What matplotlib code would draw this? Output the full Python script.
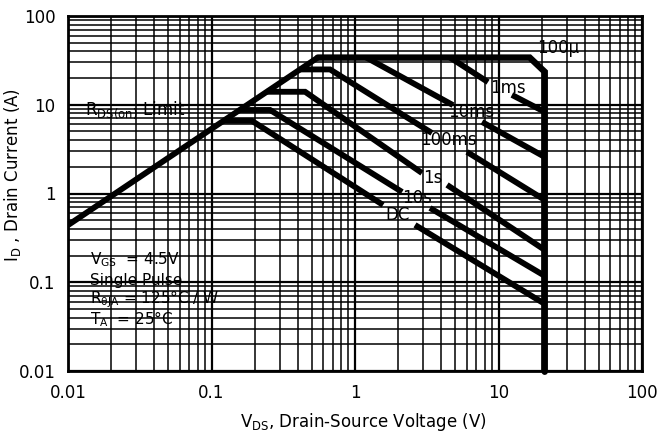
import numpy as np
import matplotlib
matplotlib.use("Agg")
import matplotlib.pyplot as plt
from matplotlib.ticker import LogLocator, FixedLocator, FixedFormatter, NullFormatter

nan = np.nan

# ---- data ----
x_ticks = [0.01, 0.1, 1, 10, 100]
x_tick_labels = ["0.01", "0.1", "1", "10", "100"]
y_ticks = [0.01, 0.1, 1, 10, 100]
y_tick_labels = ["0.01", "0.1", "1", "10", "100"]

rds_v = [0.01, 0.55]
rds_i = [0.44, 34]

c100us_v = [0.55, 16.5, 21, 21]
c100us_i = [34, 34, 23.5, 0.0098]

c1ms_v = [4.6, 8.45, nan, 12.4, 21]
c1ms_i = [34, 18.0, nan, 12.9, 8.3]

c10ms_v = [1.2, 4.82, nan, 7.67, 21]
c10ms_i = [34, 9.9, nan, 6.4, 2.58]

c100ms_v = [0.41, 0.67, 3.44, nan, 6.03, 21]
c100ms_i = [25, 25, 4.8, nan, 2.94, 0.845]

c1s_v = [0.242, 0.449, 2.93, nan, 4.38, 21]
c1s_i = [14, 14, 1.70, nan, 1.25, 0.231]

c10s_v = [0.156, 0.256, 2.13, nan, 3.33, 21]
c10s_i = [8.73, 8.73, 1.04, nan, 0.687, 0.118]

cdc_v = [0.121, 0.191, 1.57, nan, 2.62, 21]
cdc_i = [6.6, 6.6, 0.742, nan, 0.442, 0.057]

curve_labels = ["100µ", "1ms", "10ms", "100ms", "1s", "10s", "DC"]
curve_label_v = [18.5, 8.73, 4.45, 2.84, 2.98, 2.13, 1.62]
curve_label_i = [43.6, 15.4, 8.28, 4.0, 1.50, 0.89, 0.573]

notes = [r"V$_{\mathregular{GS}}$  = 4.5V", "Single Pulse",
         r"R$_{\mathregular{\theta JA}}$ = 125°C / W", r"T$_{\mathregular{A}}$  = 25°C"]
notes_v = [0.0142, 0.0142, 0.0142, 0.0142]
notes_i = [0.178, 0.106, 0.0648, 0.0386]

plt.rcParams['font.family'] = ['DejaVu Sans']
FS = 12

fig = plt.figure(figsize=(6.63, 4.37), dpi=100)
ax = fig.add_axes([68/663, 1-371/437, (642-68)/663, (371-16)/437])
ax.set_xscale('log')
ax.set_yscale('log')
ax.set_xlim(0.01, 100)
ax.set_ylim(0.01, 100)

ax.xaxis.set_major_locator(FixedLocator(x_ticks))
ax.xaxis.set_major_formatter(FixedFormatter(x_tick_labels))
ax.yaxis.set_major_locator(FixedLocator(y_ticks))
ax.yaxis.set_major_formatter(FixedFormatter(y_tick_labels))
ax.xaxis.set_minor_locator(LogLocator(base=10, subs=np.arange(2, 10)))
ax.yaxis.set_minor_locator(LogLocator(base=10, subs=np.arange(2, 10)))
ax.xaxis.set_minor_formatter(NullFormatter())
ax.yaxis.set_minor_formatter(NullFormatter())

ax.grid(which='major', color='black', linewidth=1.6)
ax.grid(which='minor', color='black', linewidth=1.1)
ax.set_axisbelow(True)
ax.tick_params(which='both', length=0, labelsize=FS)
ax.tick_params(axis='x', pad=9)
ax.tick_params(axis='y', pad=9)
for s in ax.spines.values():
    s.set_linewidth(2)
    s.set_color('black')

lw = 4.2
kw = dict(color='black', linewidth=lw, solid_capstyle='butt', solid_joinstyle='miter', zorder=3)
ax.plot(rds_v, rds_i, **kw)
ax.plot(c100us_v, c100us_i, color='black', linewidth=4.6, solid_capstyle='round',
        solid_joinstyle='miter', zorder=3, clip_on=False)
for v, i in [(c1ms_v, c1ms_i), (c10ms_v, c10ms_i), (c100ms_v, c100ms_i),
             (c1s_v, c1s_i), (c10s_v, c10s_i), (cdc_v, cdc_i)]:
    ax.plot(v, i, **kw)

for t, v, i in zip(curve_labels, curve_label_v, curve_label_i):
    ax.text(v, i, t, fontsize=FS, ha='left', va='center', zorder=4)

ax.text(0.0131, 8.73, r"R$_{\mathregular{DS(on)}}$ Limit", fontsize=FS, ha='left', va='center', zorder=4)
for t, v, i in zip(notes, notes_v, notes_i):
    ax.text(v, i, t, fontsize=11, ha='left', va='center', zorder=4)

fig.text(363/663, 1-422/437, r"V$_{\mathregular{DS}}$, Drain-Source Voltage (V)", fontsize=FS,
         ha='center', va='center')
fig.text(13/663, 1-175/437, r"I$_{\mathregular{D}}$ , Drain Current (A)", fontsize=FS,
         ha='center', va='center', rotation=90)

fig.savefig("out.png", dpi=100)
